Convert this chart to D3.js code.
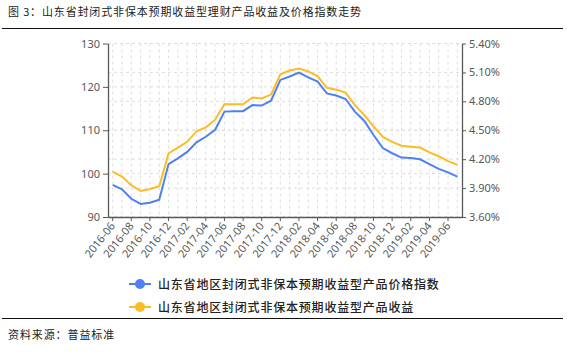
<!DOCTYPE html>
<html>
<head>
<meta charset="utf-8">
<script src="https://cdn.jsdelivr.net/npm/d3@7"></script>
<style>
  body { margin: 0; background: #fff; }
  svg { display: block; font-family: "Noto Sans", "Noto Sans CJK SC", sans-serif; }
  .cn { font-family: "Noto Sans CJK SC", sans-serif; }
</style>
</head>
<body>
<svg id="chart" width="567" height="352"></svg>
<script>
// months on the x axis
var months = ["2016-06","2016-07","2016-08","2016-09","2016-10","2016-11","2016-12",
  "2017-01","2017-02","2017-03","2017-04","2017-05","2017-06","2017-07","2017-08","2017-09","2017-10","2017-11","2017-12",
  "2018-01","2018-02","2018-03","2018-04","2018-05","2018-06","2018-07","2018-08","2018-09","2018-10","2018-11","2018-12",
  "2019-01","2019-02","2019-03","2019-04","2019-05","2019-06","2019-07"];

// price index (left axis)
var priceIndex = [97.4, 96.4, 94.2, 93.0, 93.3, 94.0, 102.2, 103.5, 105.0, 107.2, 108.5, 110.1, 114.3,
  114.4, 114.4, 115.8, 115.7, 116.8, 121.6, 122.4, 123.3, 122.2, 121.2, 118.5, 118.0, 117.2, 114.3,
  112.2, 108.9, 105.9, 104.7, 103.7, 103.6, 103.3, 102.2, 101.1, 100.3, 99.3];

// yield % (right axis)
var yieldPct = [4.07, 4.02, 3.93, 3.87, 3.89, 3.92, 4.26, 4.32, 4.38, 4.49, 4.53, 4.61, 4.77,
  4.77, 4.77, 4.84, 4.83, 4.87, 5.08, 5.12, 5.14, 5.11, 5.06, 4.94, 4.92, 4.89, 4.76,
  4.66, 4.54, 4.43, 4.38, 4.34, 4.33, 4.32, 4.27, 4.23, 4.18, 4.14];

var leftTicks = [90, 100, 110, 120, 130];
var rightTicks = [3.6, 3.9, 4.2, 4.5, 4.8, 5.1, 5.4];

var titleText = "图 3：山东省封闭式非保本预期收益型理财产品收益及价格指数走势";
var sourceText = "资料来源：普益标准";
var seriesNames = ["山东省地区封闭式非保本预期收益型产品价格指数", "山东省地区封闭式非保本预期收益型产品收益"];
var colors = ["#4e80f4", "#fcbc26"];

var svg = d3.select("#chart");
var plotL = 108, plotR = 462, plotT = 43.5, plotB = 217;

var x = d3.scaleBand().domain(months).range([plotL, plotR]).padding(0);
var yL = d3.scaleLinear().domain([90, 130]).range([plotB, plotT]);
var yR = d3.scaleLinear().domain([3.6, 5.4]).range([plotB, plotT]);
var cx = function (m) { return x(m) + x.bandwidth() / 2; };

// title + rules
svg.append("text").attr("class", "cn")
  .attr("x", 8).attr("y", 16)
  .attr("font-size", 11).attr("letter-spacing", 0.85)
  .attr("fill", "#222")
  .text(titleText);
svg.append("line").attr("x1", 2).attr("x2", 563).attr("y1", 28.5).attr("y2", 28.5)
  .attr("stroke", "#111").attr("stroke-width", 1.2);
svg.append("line").attr("x1", 2).attr("x2", 563).attr("y1", 318.5).attr("y2", 318.5)
  .attr("stroke", "#111").attr("stroke-width", 1.2);

// gridlines
var grid = svg.append("g").attr("stroke", "#dedede").attr("stroke-dasharray", "3,3");
grid.selectAll(".gv").data(months).enter().append("line")
  .attr("x1", cx).attr("x2", cx).attr("y1", plotT).attr("y2", plotB);
grid.selectAll(".gl").data(leftTicks).enter().append("line")
  .attr("x1", plotL).attr("x2", plotR).attr("y1", yL).attr("y2", yL);
grid.selectAll(".gr").data(rightTicks).enter().append("line")
  .attr("x1", plotL).attr("x2", plotR).attr("y1", yR).attr("y2", yR);

// axes
var axisColor = "#595959";
var gL = svg.append("g").attr("transform", "translate(" + plotL + ",0)")
  .call(d3.axisLeft(yL).tickValues(leftTicks).tickSize(5).tickSizeOuter(0).tickPadding(3));
var gR = svg.append("g").attr("transform", "translate(" + plotR + ",0)")
  .call(d3.axisRight(yR).tickValues(rightTicks).tickSize(4).tickSizeOuter(0).tickPadding(3)
    .tickFormat(function (d) { return d.toFixed(2) + "%"; }));
var tickMonths = months.filter(function (d, i) { return i % 2 == 0; });
var gX = svg.append("g").attr("transform", "translate(0," + plotB + ")")
  .call(d3.axisBottom(x).tickValues(tickMonths).tickSize(4).tickSizeOuter(0));
gX.selectAll("text")
  .attr("text-anchor", "end")
  .attr("dx", 0).attr("dy", 0).attr("y", 0)
  .attr("transform", "translate(3,9) rotate(-52)");

[gL, gR, gX].forEach(function (g) {
  g.select(".domain").attr("stroke", axisColor).attr("stroke-width", 1.3);
  g.selectAll(".tick line").attr("stroke", axisColor);
  g.selectAll("text").attr("fill", "#595959").attr("font-size", 11)
    .attr("font-family", "Noto Sans, sans-serif");
});

// lines
var lineL = d3.line().x(function (d, i) { return cx(months[i]); }).y(function (d) { return yL(d); });
var lineR = d3.line().x(function (d, i) { return cx(months[i]); }).y(function (d) { return yR(d); });
svg.append("path").datum(yieldPct).attr("d", lineR)
  .attr("fill", "none").attr("stroke", colors[1]).attr("stroke-width", 2);
svg.append("path").datum(priceIndex).attr("d", lineL)
  .attr("fill", "none").attr("stroke", colors[0]).attr("stroke-width", 2);

// legend
var leg = svg.append("g");
seriesNames.forEach(function (name, i) {
  var ly = 284 + i * 23;
  leg.append("line").attr("x1", 129).attr("x2", 151).attr("y1", ly).attr("y2", ly)
    .attr("stroke", colors[i]).attr("stroke-width", 2);
  leg.append("circle").attr("cx", 140).attr("cy", ly).attr("r", 5).attr("fill", colors[i]);
  leg.append("text").attr("class", "cn")
    .attr("x", 158).attr("y", ly + 4.5)
    .attr("font-size", 12).attr("letter-spacing", 0.8).attr("font-weight", 500)
    .attr("fill", "#222")
    .text(name);
});

// source
svg.append("text").attr("class", "cn")
  .attr("x", 8).attr("y", 339)
  .attr("font-size", 11).attr("letter-spacing", 0.9)
  .attr("fill", "#222")
  .text(sourceText);
</script>
</body>
</html>
